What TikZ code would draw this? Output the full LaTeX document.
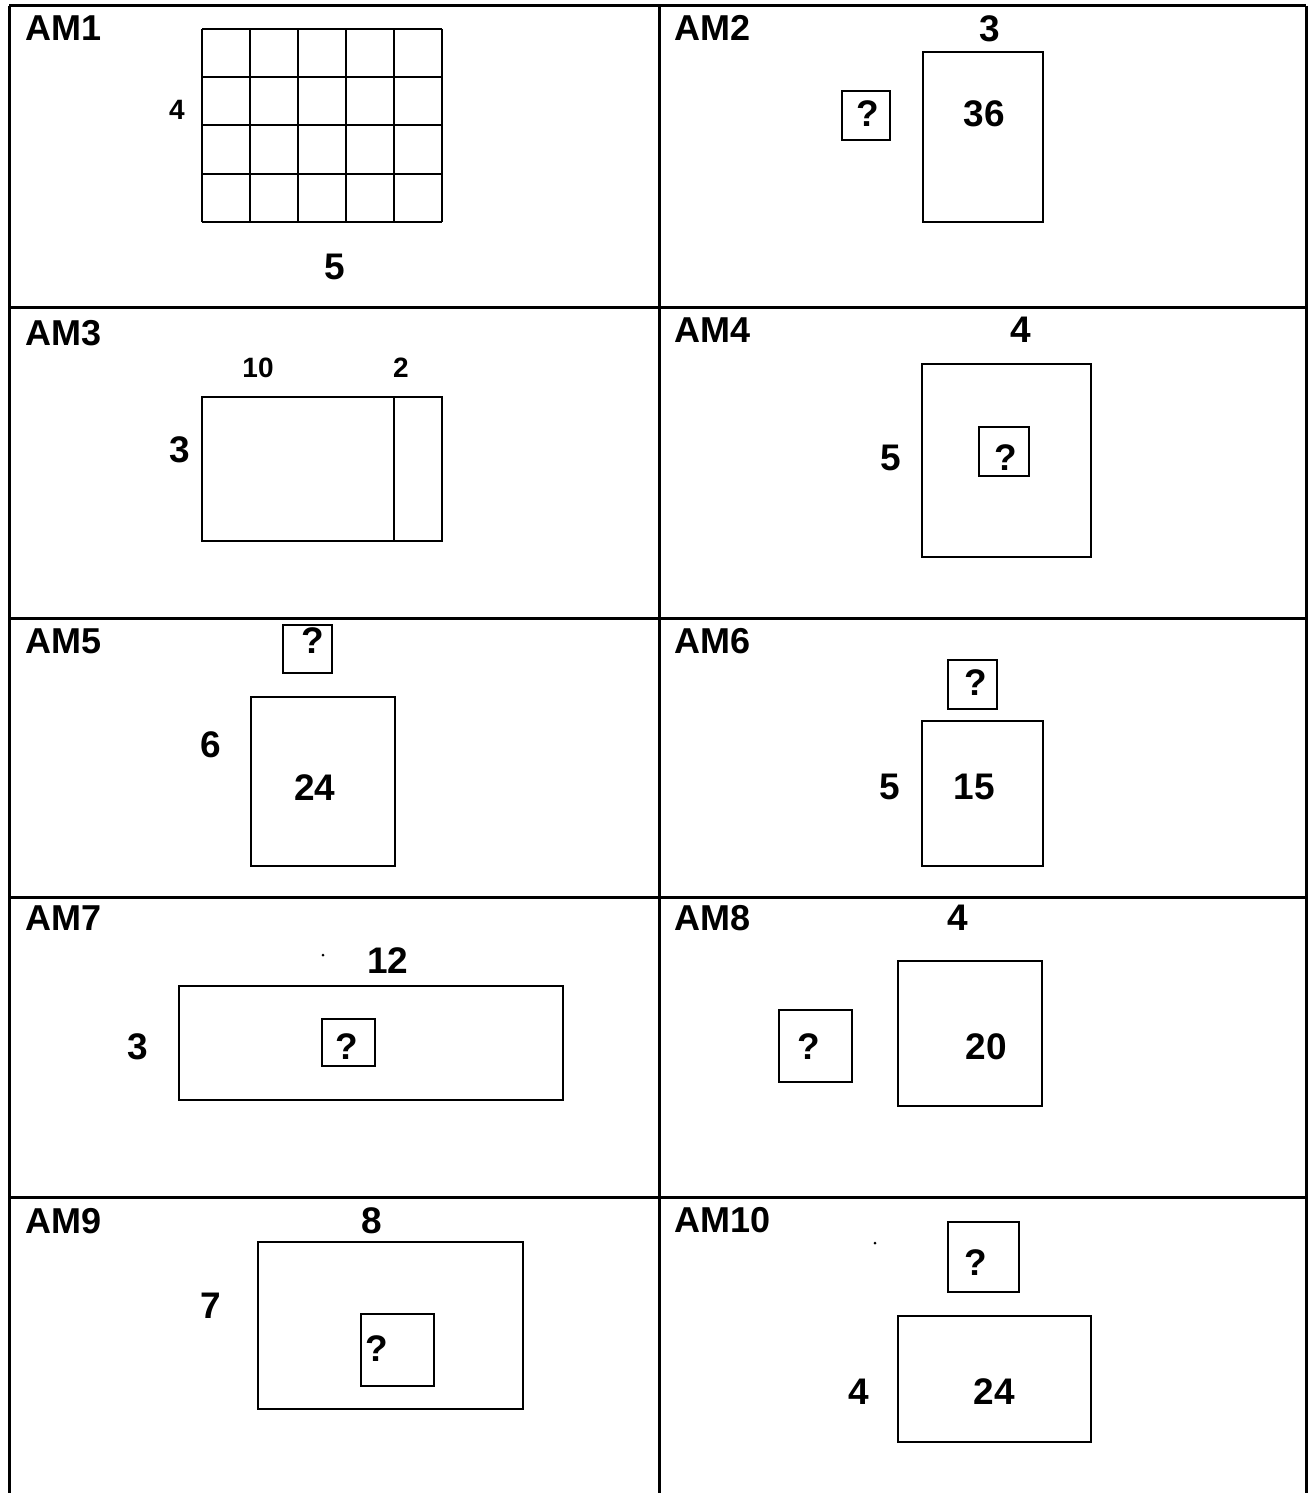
\documentclass[tikz,border=0pt]{standalone}
\usepackage{fontspec}
\setmainfont{Liberation Sans}
\tikzset{
  frame line/.style={line width=1.5pt},
  shape line/.style={line width=1pt},
  cell label/.style={anchor=west, inner sep=0pt, font=\fontsize{18}{20}\selectfont\bfseries},
  big num/.style={inner sep=0pt, font=\fontsize{18.5}{20}\selectfont\bfseries},
  small num/.style={inner sep=0pt, font=\fontsize{14}{16}\selectfont\bfseries},
  dot mark/.style={circle, fill=black, inner sep=0pt, minimum size=1.5pt}
}

\begin{document}
\begin{tikzpicture}[x=0.5pt, y=-0.5pt]
    \useasboundingbox (0,0) rectangle (1308,1493);

    % table frame
    \foreach \y in {6,307,618,897,1197} {
      \draw[frame line] (9,\y) -- (1306,\y);
    }
    \foreach \x in {9,659,1306} {
      \draw[frame line] (\x,6) -- (\x,1493);
    }

    % AM1: 5 x 4 grid
    \node[cell label] (lab1) at (25,28) {AM1};
    \foreach \i in {0,...,5} {
      \draw[shape line] ({202+48*\i},29) -- ({202+48*\i},222);
    }
    \foreach \j in {0,...,4} {
      \draw[shape line] (202,{29+48.25*\j}) -- (442,{29+48.25*\j});
    }
    \node[small num] (side1) at (177,110) {4};
    \node[big num] (base1) at (335,267) {5};

    % AM2
    \node[cell label] (lab2) at (674,28) {AM2};
    \node[big num] (top2) at (990,29) {3};
    \draw[shape line] (923,52) rectangle (1043,222);
    \node[big num] (area2) at (984,114) {36};
    \draw[shape line] (842,91) rectangle (890,140);
    \node[big num] (q2) at (868,114) {?};

    % AM3
    \node[cell label] (lab3) at (25,333) {AM3};
    \node[small num] (topa3) at (258,368) {10};
    \node[small num] (topb3) at (401,368) {2};
    \draw[shape line] (202,397) rectangle (442,541);
    \draw[shape line] (394,397) -- (394,541);
    \node[big num] (side3) at (180,450) {3};

    % AM4
    \node[cell label] (lab4) at (674,330) {AM4};
    \node[big num] (top4) at (1021,330) {4};
    \draw[shape line] (922,364) rectangle (1091,557);
    \node[big num] (side4) at (891,458) {5};
    \draw[shape line] (979,427) rectangle (1029,476);
    \node[big num] (q4) at (1006,458) {?};

    % AM5
    \node[cell label] (lab5) at (25,641) {AM5};
    \draw[shape line] (283,625) rectangle (332,673);
    \node[big num] (q5) at (313,641) {?};
    \draw[shape line] (251,697) rectangle (395,866);
    \node[big num] (side5) at (211,745) {6};
    \node[big num] (area5) at (315,788) {24};

    % AM6
    \node[cell label] (lab6) at (674,641) {AM6};
    \draw[shape line] (948,660) rectangle (997,709);
    \node[big num] (q6) at (976,683) {?};
    \draw[shape line] (922,721) rectangle (1043,866);
    \node[big num] (side6) at (890,787) {5};
    \node[big num] (area6) at (974,787) {15};

    % AM7
    \node[cell label] (lab7) at (25,918) {AM7};
    \node[dot mark] (dot7) at (323,955) {};
    \node[big num] (top7) at (388,961) {12};
    \draw[shape line] (179,986) rectangle (563,1100);
    \node[big num] (side7) at (138,1047) {3};
    \draw[shape line] (322,1019) rectangle (375,1066);
    \node[big num] (q7) at (347,1047) {?};

    % AM8
    \node[cell label] (lab8) at (674,918) {AM8};
    \node[big num] (top8) at (958,918) {4};
    \draw[shape line] (898,961) rectangle (1042,1106);
    \node[big num] (area8) at (986,1047) {20};
    \draw[shape line] (779,1010) rectangle (852,1082);
    \node[big num] (q8) at (809,1047) {?};

    % AM9
    \node[cell label] (lab9) at (25,1221) {AM9};
    \node[big num] (top9) at (372,1221) {8};
    \draw[shape line] (258,1242) rectangle (523,1409);
    \node[big num] (side9) at (211,1306) {7};
    \draw[shape line] (361,1314) rectangle (434,1386);
    \node[big num] (q9) at (377,1349) {?};

    % AM10
    \node[cell label] (lab10) at (674,1220) {AM10};
    \node[dot mark] (dot10) at (875,1243) {};
    \draw[shape line] (948,1222) rectangle (1019,1292);
    \node[big num] (q10) at (976,1263) {?};
    \draw[shape line] (898,1316) rectangle (1091,1442);
    \node[big num] (side10) at (859,1392) {4};
    \node[big num] (area10) at (994,1392) {24};

  \end{tikzpicture}
\end{document}
